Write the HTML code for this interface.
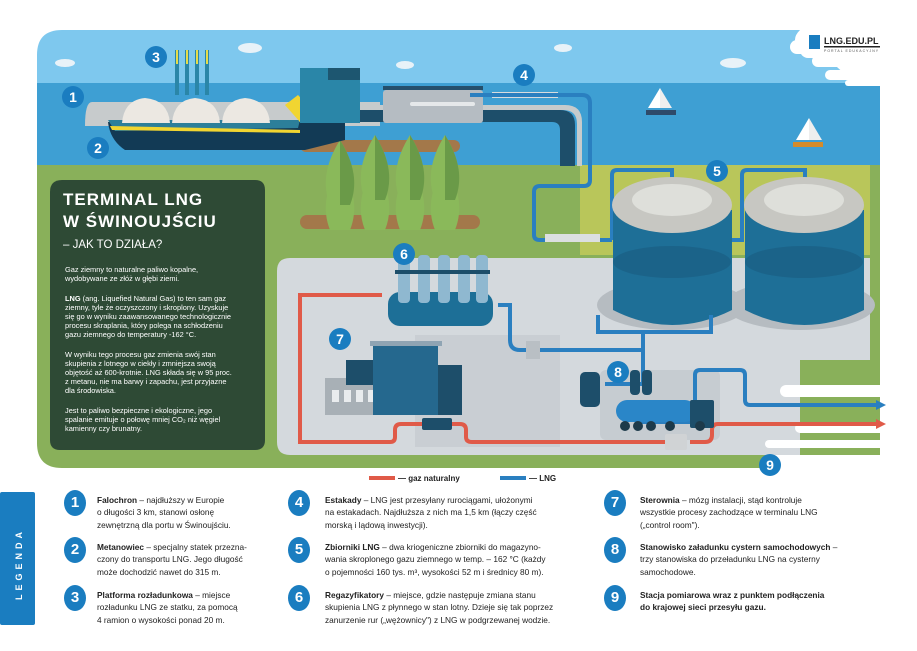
<!DOCTYPE html>
<html><head><meta charset="utf-8"><style>
body{margin:0;width:917px;height:651px;background:#fff;overflow:hidden;font-family:"Liberation Sans",sans-serif}
svg{position:absolute;left:0;top:0}
.lg{position:absolute;font-size:8.3px;line-height:12.4px;color:#222;font-family:"Liberation Sans",sans-serif}
.lg b{font-weight:bold}
.num{position:absolute;width:22px;height:26px;border-radius:50%;background:#1a7dc0;color:#fff;font-weight:bold;font-size:15px;text-align:center;line-height:26px}
</style></head><body>
<svg width="917" height="651" viewBox="0 0 917 651" font-family="Liberation Sans, sans-serif">
<!-- sky -->
<path d="M37,55 Q37,30 62,30 L800,30 Q790,40 800,48 L830,55 Q835,70 850,75 L880,80 L880,85 L37,85 Z" fill="#7ec8ee"/>
<!-- sea -->
<rect x="37" y="83" width="843" height="83" fill="#3e9fd3"/>
<!-- clouds -->
<g fill="#e8f2f8"><ellipse cx="65" cy="63" rx="10" ry="4"/><ellipse cx="250" cy="48" rx="12" ry="5"/><ellipse cx="405" cy="65" rx="9" ry="4"/><ellipse cx="563" cy="48" rx="9" ry="4"/><ellipse cx="733" cy="63" rx="13" ry="5"/></g>
<!-- white cloud cut top right -->
<g fill="#fff"><rect x="800" y="28" width="117" height="30" rx="8"/><rect x="790" y="40" width="127" height="14" rx="7"/><rect x="812" y="55" width="105" height="12" rx="6"/><rect x="825" y="70" width="92" height="10" rx="5"/><rect x="845" y="80" width="72" height="6" rx="3"/><rect x="880" y="80" width="37" height="400"/></g>
<!-- land -->
<path d="M37,165 L880,165 L880,468 L62,468 Q37,468 37,443 Z" fill="#89b05a"/>
<rect x="580" y="165" width="290" height="90" fill="#d8d65a" opacity="0.6"/>
<!-- grey area -->
<path d="M290,258 L870,258 L870,360 L800,360 L800,455 L290,455 Q277,455 277,442 L277,271 Q277,258 290,258 Z" fill="#d4d9dd"/>
<rect x="415" y="335" width="145" height="112" fill="#c9ced3"/>
<rect x="600" y="370" width="120" height="70" rx="6" fill="#c6ccd1"/>
<!-- white cutouts bottom right -->
<g fill="#fff"><rect x="780" y="385" width="140" height="12" rx="6"/><rect x="795" y="423" width="130" height="10" rx="5"/><rect x="765" y="440" width="150" height="8" rx="4"/><rect x="770" y="455" width="150" height="13" rx="6"/></g>
<!-- brown patches & trees -->
<g fill="#a3784a"><rect x="300" y="140" width="160" height="12" rx="6"/><rect x="300" y="215" width="180" height="14" rx="7"/></g>
<g fill="#8ab95a">
<path d="M330,205 Q318,175 340,140 Q362,175 350,205Z"/><path d="M365,200 Q353,170 375,135 Q397,170 385,200Z"/><path d="M400,200 Q388,170 410,135 Q432,170 420,200Z"/><path d="M435,200 Q423,170 445,135 Q467,170 455,200Z"/>
<path d="M330,230 Q318,200 340,165 Q362,200 350,230Z"/><path d="M365,230 Q353,200 375,165 Q397,200 385,230Z"/><path d="M400,230 Q388,200 410,165 Q432,200 420,230Z"/><path d="M435,230 Q423,200 445,165 Q467,200 455,230Z"/></g>
<g fill="#6a9a48"><path d="M340,140 L340,205 L350,205 Q362,175 340,140Z"/><path d="M375,135 L375,200 L385,200 Q397,170 375,135Z"/><path d="M410,135 L410,200 L420,200 Q432,170 410,135Z"/><path d="M445,135 L445,200 L455,200 Q467,170 445,135Z"/></g>
<!-- breakwater -->
<path d="M92,102 L380,102 L380,126 L85,126 Q85,102 92,102Z" fill="#c7cbcc"/>
<!-- jetty pipe -->
<path d="M350,110 L560,110 Q575,110 575,125 L575,166 L560,166 L560,130 Q560,122 552,122 L350,122Z" fill="#1d4e6a"/>
<path d="M352,105 L565,105 Q582,105 582,122 L582,166 L577,166 L577,124 Q577,110 563,110 L352,110Z" fill="#c7cbcc"/>
<!-- platform building -->
<rect x="383" y="90" width="100" height="33" rx="3" fill="#b5bcc2"/><rect x="383" y="86" width="100" height="4" fill="#254f6b"/>
<rect x="410" y="102" width="65" height="4" rx="2" fill="#e5e8ea"/>
<!-- ship -->
<path d="M108,122 L305,122 L345,105 L345,140 L305,150 L125,150 Q110,140 108,122Z" fill="#123a55"/>
<path d="M108,120 L300,120 L298,128 L115,131Z" fill="#2c7f9a"/><path d="M110,126 L300,130 L300,133 L112,130Z" fill="#f1d531"/>
<g fill="#ece8e2"><path d="M122,123 Q124,100 145,98 Q168,100 170,123Z"/><path d="M172,123 Q174,100 195,98 Q218,100 220,123Z"/><path d="M222,123 Q224,100 245,98 Q268,100 270,123Z"/></g>
<path d="M285,105 L298,95 L312,110 L300,122Z" fill="#f1d531"/>
<rect x="300" y="68" width="60" height="55" fill="#2a86a8"/><rect x="328" y="68" width="32" height="12" fill="#1d5670"/>
<!-- loading arms -->
<g fill="#2a86a8"><rect x="175" y="50" width="4" height="45"/><rect x="185" y="50" width="4" height="45"/><rect x="195" y="50" width="4" height="45"/><rect x="205" y="50" width="4" height="45"/></g>
<g fill="#e5dc4a"><rect x="176" y="50" width="2" height="14"/><rect x="186" y="50" width="2" height="14"/><rect x="196" y="50" width="2" height="14"/><rect x="206" y="50" width="2" height="14"/></g>
<!-- estakada 4 -->
<rect x="492" y="92" width="66" height="6" fill="#d8dcde"/>
<path d="M470,95 L582,95 Q590,95 590,103 L590,180 Q590,186 584,186 L540,186 Q534,186 534,192 L534,235 Q534,240 540,240 L612,240" fill="none" stroke="#2a7fc0" stroke-width="4"/>
<rect x="545" y="234" width="55" height="8" fill="#dcdfe0"/>
<path d="M612,240 L612,175 Q612,170 617,170 L672,170 L672,182" fill="none" stroke="#2a7fc0" stroke-width="4"/>
<path d="M732,240 L742,240 L742,175 Q742,170 747,170 L805,170 L805,182" fill="none" stroke="#2a7fc0" stroke-width="4"/>
<!-- boats -->
<g><path d="M660,88 L660,108 L648,108Z" fill="#fff"/><path d="M660,88 L672,108 L660,108Z" fill="#eee"/><rect x="646" y="110" width="30" height="5" fill="#2e4a6a"/></g>
<g><path d="M809,118 L809,140 L796,140Z" fill="#fff"/><path d="M809,118 L822,140 L809,140Z" fill="#eee"/><rect x="793" y="142" width="30" height="5" fill="#d48b2a"/></g>
<!-- tanks -->
<ellipse cx="672" cy="305" rx="75" ry="25" fill="#b6bcc1"/>
<ellipse cx="800" cy="305" rx="75" ry="25" fill="#b6bcc1"/>
<path d="M613,210 L732,210 L732,310 Q672,340 613,310Z" fill="#1e6f97"/>
<path d="M745,210 L864,210 L864,310 Q804,340 745,310Z" fill="#1e6f97"/>
<ellipse cx="672" cy="262" rx="59" ry="16" fill="#1b6389"/><ellipse cx="804" cy="262" rx="59" ry="16" fill="#1b6389"/>
<ellipse cx="672" cy="205" rx="60" ry="28" fill="#c7c7c2"/><ellipse cx="672" cy="200" rx="40" ry="16" fill="#dedfda"/>
<ellipse cx="804" cy="205" rx="60" ry="28" fill="#c7c7c2"/><ellipse cx="804" cy="200" rx="40" ry="16" fill="#dedfda"/>
<!-- blue LNG pipes ground -->
<g fill="none" stroke="#2a7fc0" stroke-width="4">
<path d="M598,315 L598,332 L711,332 L711,315"/>
<path d="M643,332 L643,384 L605,384"/>
<path d="M643,350 L520,350 Q510,350 510,340 L510,305 L498,305"/>
<path d="M638,422 L690,422 Q695,422 695,417 L695,375 Q695,370 700,370 L740,370 Q745,370 745,375 L745,400 Q745,405 750,405 L876,405"/>
</g>
<path d="M876,400 L886,405 L876,410Z" fill="#2a7fc0"/>
<rect x="526" y="341" width="14" height="18" fill="#b9bfc4"/>
<!-- red gas pipes -->
<g fill="none" stroke="#e05a48" stroke-width="4">
<path d="M382,295 L300,295 L300,442 L390,442 Q395,442 395,437 L395,430 Q395,424 401,424 L460,424 Q466,424 466,430 L466,437 Q466,442 472,442 L675,442"/>
<path d="M690,442 L705,442 Q712,442 712,435 L712,430 Q712,424 718,424 L876,424"/>
</g>
<path d="M876,419 L886,424 L876,429Z" fill="#e05a48"/>
<rect x="665" y="434" width="22" height="16" rx="2" fill="#d0d3d5"/>
<rect x="422" y="418" width="30" height="12" rx="2" fill="#1d4e6a"/>
<!-- regasifier -->
<rect x="388" y="292" width="105" height="34" rx="12" fill="#1d6f97"/>
<g fill="#8fb8d0"><rect x="398" y="255" width="12" height="48" rx="4"/><rect x="418" y="255" width="12" height="48" rx="4"/><rect x="438" y="255" width="12" height="48" rx="4"/><rect x="458" y="255" width="12" height="48" rx="4"/><rect x="476" y="255" width="12" height="48" rx="4"/></g>
<rect x="395" y="270" width="95" height="4" fill="#1d4e6a"/>
<!-- building 7 -->
<rect x="325" y="378" width="90" height="37" fill="#a8b0b6"/><g fill="#e9ecee"><rect x="332" y="390" width="7" height="12"/><rect x="344" y="390" width="7" height="12"/><rect x="356" y="390" width="7" height="12"/><rect x="368" y="390" width="7" height="12"/><rect x="380" y="390" width="7" height="12"/><rect x="392" y="390" width="7" height="12"/></g>
<rect x="346" y="360" width="30" height="25" fill="#1d4e6a"/>
<rect x="373" y="345" width="65" height="70" fill="#25688e"/><rect x="370" y="341" width="72" height="5" fill="#8fa4b3"/>
<rect x="438" y="365" width="24" height="50" fill="#1d4e6a"/>
<!-- trucks -->
<rect x="580" y="372" width="20" height="35" rx="5" fill="#1d4e6a"/>
<rect x="630" y="370" width="10" height="25" rx="4" fill="#1d4e6a"/><rect x="642" y="370" width="10" height="25" rx="4" fill="#1d4e6a"/>
<rect x="616" y="400" width="80" height="22" rx="11" fill="#2a86c8"/><rect x="690" y="400" width="24" height="28" rx="2" fill="#1d4e6a"/>
<g fill="#1d3a4a"><circle cx="625" cy="426" r="5"/><circle cx="638" cy="426" r="5"/><circle cx="651" cy="426" r="5"/><circle cx="670" cy="426" r="5"/><circle cx="700" cy="426" r="5"/></g>
<!-- green panel -->
<path d="M62,180 L255,180 Q265,180 265,190 L265,440 Q265,450 255,450 L60,450 Q50,450 50,440 L50,192 Q50,180 62,180Z" fill="#2e4a35"/>
<text x="63" y="205" fill="#fff" font-size="17" font-weight="bold" letter-spacing="1">TERMINAL LNG</text>
<text x="63" y="227" fill="#fff" font-size="17" font-weight="bold" letter-spacing="1">W ŚWINOUJŚCIU</text>
<text x="63" y="248" fill="#fff" font-size="11.5">– JAK TO DZIAŁA?</text>
<g fill="#fff" font-size="7.4">
<text x="65" y="272">Gaz ziemny to naturalne paliwo kopalne,</text><text x="65" y="281">wydobywane ze złóż w głębi ziemi.</text>
<text x="65" y="301"><tspan font-weight="bold">LNG</tspan> (ang. Liquefied Natural Gas) to ten sam gaz</text><text x="65" y="310">ziemny, tyle że oczyszczony i skroplony. Uzyskuje</text><text x="65" y="319">się go w wyniku zaawansowanego technologicznie</text><text x="65" y="328">procesu skraplania, który polega na schłodzeniu</text><text x="65" y="337">gazu ziemnego do temperatury -162 °C.</text>
<text x="65" y="357">W wyniku tego procesu gaz zmienia swój stan</text><text x="65" y="366">skupienia z lotnego w ciekły i zmniejsza swoją</text><text x="65" y="375">objętość aż 600-krotnie. LNG składa się w 95 proc.</text><text x="65" y="384">z metanu, nie ma barwy i zapachu, jest przyjazne</text><text x="65" y="393">dla środowiska.</text>
<text x="65" y="413">Jest to paliwo bezpieczne i ekologiczne, jego</text><text x="65" y="422">spalanie emituje o połowę mniej CO₂ niż węgiel</text><text x="65" y="431">kamienny czy brunatny.</text>
</g>
<!-- number markers -->
<g fill="#1a7dc0"><circle cx="73" cy="97" r="11"/><circle cx="98" cy="148" r="11"/><circle cx="156" cy="57" r="11"/><circle cx="524" cy="75" r="11"/><circle cx="717" cy="171" r="11"/><circle cx="404" cy="254" r="11"/><circle cx="340" cy="339" r="11"/><circle cx="618" cy="372" r="11"/><circle cx="770" cy="465" r="11"/></g>
<g fill="#fff" font-size="14" font-weight="bold" text-anchor="middle"><text x="73" y="102">1</text><text x="98" y="153">2</text><text x="156" y="62">3</text><text x="524" y="80">4</text><text x="717" y="176">5</text><text x="404" y="259">6</text><text x="340" y="344">7</text><text x="618" y="377">8</text><text x="770" y="470">9</text></g>
<!-- logo -->
<rect x="809" y="35" width="11" height="14" fill="#1a7dc0"/><text x="824" y="44" font-size="9" font-weight="bold" fill="#222">LNG.EDU.PL</text><rect x="824" y="46" width="56" height="1.5" fill="#222"/><text x="824" y="52" font-size="3.5" fill="#555" letter-spacing="1">PORTAL EDUKACYJNY</text>
<!-- key -->
<rect x="369" y="476" width="26" height="4" fill="#e05a48"/><text x="398" y="481" font-size="8" font-weight="bold" fill="#222">— gaz naturalny</text>
<rect x="500" y="476" width="26" height="4" fill="#2a7fc0"/><text x="529" y="481" font-size="8" font-weight="bold" fill="#222">— LNG</text>
<!-- legend tab -->
<rect x="0" y="492" width="35" height="133" rx="2" fill="#1a7dc0"/>
<text transform="translate(22,564) rotate(-90)" text-anchor="middle" fill="#fff" font-size="9" font-weight="bold" letter-spacing="4">LEGENDA</text>
</svg>
<div class="num" style="left:64px;top:490px">1</div><div class="num" style="left:64px;top:537px">2</div><div class="num" style="left:64px;top:585px">3</div>
<div class="num" style="left:288px;top:490px">4</div><div class="num" style="left:288px;top:537px">5</div><div class="num" style="left:288px;top:585px">6</div>
<div class="num" style="left:604px;top:490px">7</div><div class="num" style="left:604px;top:537px">8</div><div class="num" style="left:604px;top:585px">9</div>
<div class="lg" style="left:97px;top:494px"><b>Falochron</b> – najdłuższy w Europie<br>o długości 3 km, stanowi osłonę<br>zewnętrzną dla portu w Świnoujściu.</div>
<div class="lg" style="left:97px;top:541px"><b>Metanowiec</b> – specjalny statek przezna-<br>czony do transportu LNG. Jego długość<br>może dochodzić nawet do 315 m.</div>
<div class="lg" style="left:97px;top:589px"><b>Platforma rozładunkowa</b> – miejsce<br>rozładunku LNG ze statku, za pomocą<br>4 ramion o wysokości ponad 20 m.</div>
<div class="lg" style="left:325px;top:494px"><b>Estakady</b> – LNG jest przesyłany rurociągami, ułożonymi<br>na estakadach. Najdłuższa z nich ma 1,5 km (łączy część<br>morską i lądową inwestycji).</div>
<div class="lg" style="left:325px;top:541px"><b>Zbiorniki LNG</b> – dwa kriogeniczne zbiorniki do magazyno-<br>wania skroplonego gazu ziemnego w temp. – 162 °C (każdy<br>o pojemności 160 tys. m³, wysokości 52 m i średnicy 80 m).</div>
<div class="lg" style="left:325px;top:589px"><b>Regazyfikatory</b> – miejsce, gdzie następuje zmiana stanu<br>skupienia LNG z płynnego w stan lotny. Dzieje się tak poprzez<br>zanurzenie rur („wężownicy") z LNG w podgrzewanej wodzie.</div>
<div class="lg" style="left:640px;top:494px"><b>Sterownia</b> – mózg instalacji, stąd kontroluje<br>wszystkie procesy zachodzące w terminalu LNG<br>(„control room").</div>
<div class="lg" style="left:640px;top:541px"><b>Stanowisko załadunku cystern samochodowych</b> –<br>trzy stanowiska do przeładunku LNG na cysterny<br>samochodowe.</div>
<div class="lg" style="left:640px;top:589px"><b>Stacja pomiarowa wraz z punktem podłączenia<br>do krajowej sieci przesyłu gazu.</b></div>
</body></html>
